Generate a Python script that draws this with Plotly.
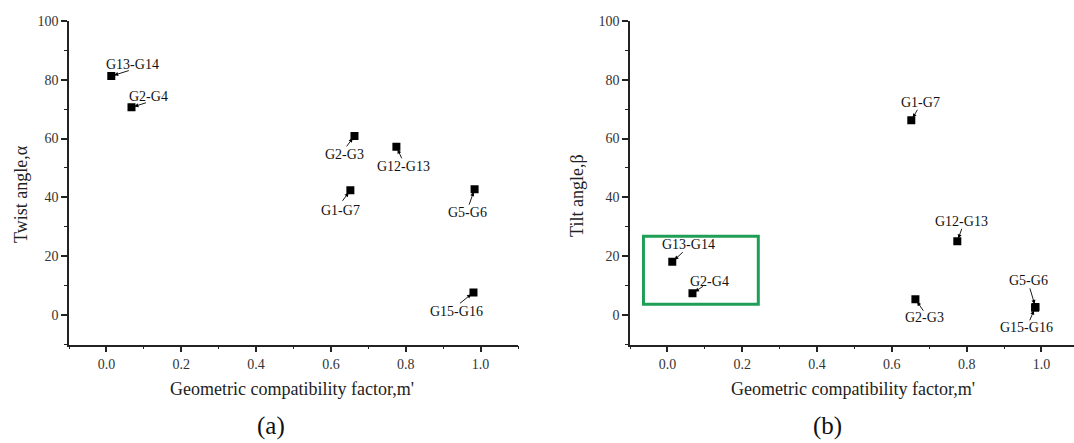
import plotly.graph_objects as go

# ---------------- data ----------------
labels_a = ["G13-G14", "G2-G4", "G2-G3", "G12-G13", "G1-G7", "G5-G6", "G15-G16"]
m_prime_a = [0.013, 0.067, 0.663, 0.775, 0.652, 0.984, 0.981]
twist_angle = [81.2, 70.6, 60.9, 57.2, 42.4, 42.8, 7.7]

labels_b = ["G1-G7", "G12-G13", "G13-G14", "G2-G4", "G2-G3", "G5-G6", "G15-G16"]
m_prime_b = [0.652, 0.775, 0.013, 0.067, 0.663, 0.984, 0.983]
tilt_angle = [66.2, 25.1, 18.1, 7.4, 5.4, 2.8, 2.5]

# highlighted region in panel (b)
box_x = [-0.064, 0.243]
box_y = [3.7, 26.8]

x_ticks = [0.0, 0.2, 0.4, 0.6, 0.8, 1.0]
y_ticks = [0, 20, 40, 60, 80, 100]

# label placement (pixels relative to point): text centre and arrow tail
text_off_a = [(21, -12), (17, -11), (-10, 19), (7, 20), (-10, 20), (-7, 23), (-17, 19)]
tail_off_a = [(19, -6), (16, -5), (-9, 12), (6, 13), (-9, 12), (-6, 17), (-15, 12)]
text_off_b = [(9, -18), (4, -20), (16, -17), (17, -12), (9, 18), (-7, -26), (-9, 20)]
tail_off_b = [(7, -12), (5, -14), (12, -11), (12, -8), (9, 13), (-6, -20), (-6, 14)]

# ---------------- layout helpers ----------------
W, H = 1074, 443
def px(v): return v / W
def py(v): return 1 - v / H

FONT = "Liberation Serif, Times New Roman, DejaVu Serif, serif"
TICKC = "#333333"
LINEC = "#222222"

ydom = [py(343), py(14)]
xdom1 = [px(69), px(518)]
xdom2 = [px(630), 1.0]
xr1 = [-0.1, 1.1]
xr2 = [-0.1, 1.087]
yr = [-10, 100]

fig = go.Figure()
fig.add_trace(go.Scatter(x=m_prime_a, y=twist_angle, mode="markers",
                         marker=dict(symbol="square", size=8, color="black"),
                         xaxis="x", yaxis="y", showlegend=False))
fig.add_trace(go.Scatter(x=m_prime_b, y=tilt_angle, mode="markers",
                         marker=dict(symbol="square", size=8, color="black"),
                         xaxis="x2", yaxis="y2", showlegend=False))

MINOR_X = [-0.1, 0.1, 0.3, 0.5, 0.7, 0.9, 1.1]
MINOR_Y = [-10, 10, 30, 50, 70, 90]

def xax(dom, rng, anchor):
    return dict(domain=dom, range=rng, anchor=anchor, tickvals=x_ticks,
                ticktext=[f"{v:.1f}" for v in x_ticks],
                ticks="outside", ticklen=6, tickwidth=1.5, tickcolor=LINEC,
                minor=dict(tickvals=MINOR_X, ticks="outside",
                           ticklen=3, tickwidth=1.2, tickcolor=LINEC),
                showline=True, linecolor=LINEC, linewidth=1.6, showgrid=False,
                zeroline=False, tickfont=dict(family=FONT, size=14, color=TICKC))

def yax(dom, anchor):
    return dict(domain=dom, range=yr, anchor=anchor, tickvals=y_ticks,
                ticks="outside", ticklen=6, tickwidth=1.5, tickcolor=LINEC,
                minor=dict(tickvals=MINOR_Y, ticks="outside",
                           ticklen=3, tickwidth=1.2, tickcolor=LINEC),
                showline=True, linecolor=LINEC, linewidth=1.6, showgrid=False,
                zeroline=False, tickfont=dict(family=FONT, size=14, color=TICKC))

def xtop(over, dom, rng, anchor):
    return dict(overlaying=over, domain=dom, range=rng, anchor=anchor, side="top",
                tickvals=x_ticks, ticks="inside", ticklen=5, tickwidth=1.5, tickcolor=LINEC,
                minor=dict(tickvals=MINOR_X, ticks="inside",
                           ticklen=3, tickwidth=1.2, tickcolor=LINEC),
                showticklabels=False, showline=True, linecolor=LINEC, linewidth=1.6,
                showgrid=False, zeroline=False)

def yright(over, dom, anchor):
    return dict(overlaying=over, domain=dom, range=yr, anchor=anchor, side="right",
                tickvals=y_ticks, ticks="inside", ticklen=5, tickwidth=1.5, tickcolor=LINEC,
                minor=dict(tickvals=MINOR_Y, ticks="inside",
                           ticklen=3, tickwidth=1.2, tickcolor=LINEC),
                showticklabels=False, showline=True, linecolor=LINEC, linewidth=1.6,
                showgrid=False, zeroline=False)

ann_font = dict(family=FONT, size=14, color="#111")
annotations = []
def add_labels(labels, xs, ys, toffs, aoffs, xref, yref):
    for lab, x, y, (tx, ty), (ax, ay) in zip(labels, xs, ys, toffs, aoffs):
        annotations.append(dict(x=x, y=y, xref=xref, yref=yref, text=lab, showarrow=False,
                                xshift=tx, yshift=-ty, font=ann_font,
                                xanchor="center", yanchor="middle"))
        annotations.append(dict(x=x, y=y, xref=xref, yref=yref, text="", showarrow=True,
                                ax=ax, ay=ay, arrowhead=2, arrowsize=0.9, arrowwidth=0.9,
                                arrowcolor="black", standoff=3))

add_labels(labels_a, m_prime_a, twist_angle, text_off_a, tail_off_a, "x", "y")
add_labels(labels_b, m_prime_b, tilt_angle, text_off_b, tail_off_b, "x2", "y2")

title_font = dict(family=FONT, size=18, color="#222")
annotations += [
    dict(x=px(292), y=py(388), xref="paper", yref="paper", text="Geometric compatibility factor,m'",
         showarrow=False, font=title_font, xanchor="center", yanchor="middle"),
    dict(x=px(853), y=py(388), xref="paper", yref="paper", text="Geometric compatibility factor,m'",
         showarrow=False, font=title_font, xanchor="center", yanchor="middle"),
    dict(x=px(21), y=py(190), xref="paper", yref="paper", text="Twist angle,α", textangle=-90,
         showarrow=False, font=title_font, xanchor="center", yanchor="middle"),
    dict(x=px(577), y=py(192), xref="paper", yref="paper", text="Tilt angle,β", textangle=-90,
         showarrow=False, font=title_font, xanchor="center", yanchor="middle"),
    dict(x=px(271), y=py(426), xref="paper", yref="paper", text="(a)",
         showarrow=False, font=dict(family=FONT, size=25, color="#111"), xanchor="center", yanchor="middle"),
    dict(x=px(827), y=py(426), xref="paper", yref="paper", text="(b)",
         showarrow=False, font=dict(family=FONT, size=25, color="#111"), xanchor="center", yanchor="middle"),
]

fig.update_layout(
    width=W, height=H, margin=dict(l=0, r=0, t=0, b=0),
    font=dict(family=FONT),
    paper_bgcolor="white", plot_bgcolor="white",
    xaxis=xax(xdom1, xr1, "y"), yaxis=yax(ydom, "x"),
    xaxis2=xax(xdom2, xr2, "y2"), yaxis2=yax(ydom, "x2"),
    xaxis3=xtop("x", xdom1, xr1, "y"), yaxis3=yright("y", ydom, "x"),
    xaxis4=xtop("x2", xdom2, xr2, "y2"), yaxis4=yright("y2", ydom, "x2"),
    annotations=annotations,
    shapes=[dict(type="rect", xref="x2", yref="y2", x0=box_x[0], x1=box_x[1],
                 y0=box_y[0], y1=box_y[1], line=dict(color="#1f9e55", width=3))],
)

fig.write_html("out.html", config={"displayModeBar": False},
               post_script="document.body.style.margin='0';document.body.style.overflow='hidden';")
